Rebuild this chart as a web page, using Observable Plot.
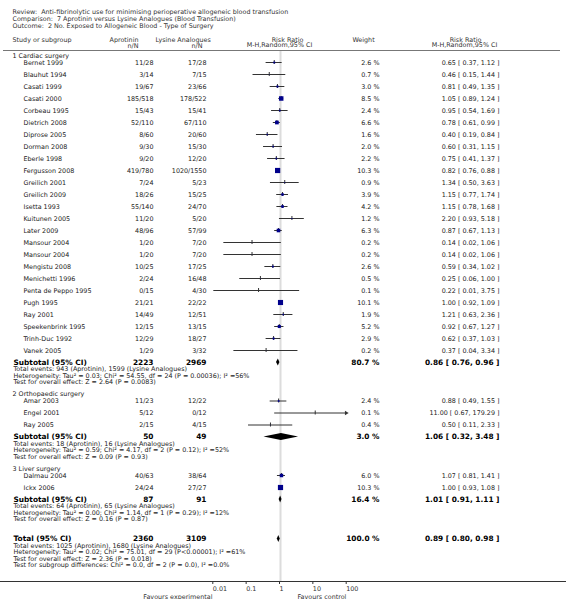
<!DOCTYPE html>
<html><head><meta charset="utf-8">
<script src="https://cdn.jsdelivr.net/npm/d3@7"></script>
<script src="https://cdn.jsdelivr.net/npm/@observablehq/plot@0.6"></script>
<style>body{margin:0;background:#fff} svg{display:block}</style>
</head><body><div id="chart"></div>
<script>
// ---------- data ----------
const headerLines = [
  "Review:  Anti-fibrinolytic use for minimising perioperative allogeneic blood transfusion",
  "Comparison:  7 Aprotinin versus Lysine Analogues (Blood Transfusion)",
  "Outcome:  2 No. Exposed to Allogeneic Blood - Type of Surgery"
];
const groupNames = ["1 Cardiac surgery", "2 Orthopaedic surgery", "3 Liver surgery"];
const studyNames = ["Bernet 1999","Blauhut 1994","Casati 1999","Casati 2000","Corbeau 1995","Dietrich 2008","Diprose 2005","Dorman 2008","Eberle 1998","Fergusson 2008","Greilich 2001","Greilich 2009","Isetta 1993","Kuitunen 2005","Later 2009","Mansour 2004","Mansour 2004","Mengistu 2008","Menichetti 1996","Penta de Peppo 1995","Pugh 1995","Ray 2001","Speekenbrink 1995","Trinh-Duc 1992","Vanek 2005",
  "Amar 2003","Engel 2001","Ray 2005",
  "Dalmau 2004","Ickx 2006"];
const studyGroup = [0,0,0,0,0,0,0,0,0,0,0,0,0,0,0,0,0,0,0,0,0,0,0,0,0, 1,1,1, 2,2];
const aprotinin = ["11/28","3/14","19/67","185/518","15/43","52/110","8/60","9/30","9/20","419/780","7/24","18/26","55/140","11/20","48/96","1/20","1/20","10/25","2/24","0/15","21/21","14/49","12/15","12/29","1/29",
  "11/23","5/12","2/15",
  "40/63","24/24"];
const lysine = ["17/28","7/15","23/66","178/522","15/41","67/110","20/60","15/30","12/20","1020/1550","5/23","15/25","24/70","5/20","57/99","7/20","7/20","17/25","16/48","4/30","22/22","12/51","13/15","18/27","3/32",
  "12/22","0/12","4/15",
  "38/64","27/27"];
const weights = [2.6,0.7,3.0,8.5,2.4,6.6,1.6,2.0,2.2,10.3,0.9,3.9,4.2,1.2,6.3,0.2,0.2,2.6,0.5,0.1,10.1,1.9,5.2,2.9,0.2,
  2.4,0.1,0.4,
  6.0,10.3];
const riskRatio = [0.65,0.46,0.81,1.05,0.95,0.78,0.40,0.60,0.75,0.82,1.34,1.15,1.15,2.20,0.87,0.14,0.14,0.59,0.25,0.22,1.00,1.21,0.92,0.62,0.37,
  0.88,11.00,0.50,
  1.07,1.00];
const ciLow = [0.37,0.15,0.49,0.89,0.54,0.61,0.19,0.31,0.41,0.76,0.50,0.77,0.78,0.93,0.67,0.02,0.02,0.34,0.06,0.01,0.92,0.63,0.67,0.37,0.04,
  0.49,0.67,0.11,
  0.81,0.93];
const ciHigh = [1.12,1.44,1.35,1.24,1.69,0.99,0.84,1.15,1.37,0.88,3.63,1.74,1.68,5.18,1.13,1.06,1.06,1.02,1.00,3.75,1.09,2.36,1.27,1.03,3.34,
  1.55,179.29,2.33,
  1.41,1.08];
const subAprotinin = ["2223", "50", "87"];
const subLysine = ["2969", "49", "91"];
const subWeight = [80.7, 3.0, 16.4];
const subRR = [0.86, 1.06, 1.01];
const subLow = [0.76, 0.32, 0.91];
const subHigh = [0.96, 3.48, 1.11];
const subNotes = [
  ["Total events: 943 (Aprotinin), 1599 (Lysine Analogues)",
   "Heterogeneity: Tau\u00b2 = 0.03; Chi\u00b2 = 54.55, df = 24 (P = 0.00036); I\u00b2 =56%",
   "Test for overall effect: Z = 2.64 (P = 0.0083)"],
  ["Total events: 18 (Aprotinin), 16 (Lysine Analogues)",
   "Heterogeneity: Tau\u00b2 = 0.59; Chi\u00b2 = 4.17, df = 2 (P = 0.12); I\u00b2 =52%",
   "Test for overall effect: Z = 0.09 (P = 0.93)"],
  ["Total events: 64 (Aprotinin), 65 (Lysine Analogues)",
   "Heterogeneity: Tau\u00b2 = 0.00; Chi\u00b2 = 1.14, df = 1 (P = 0.29); I\u00b2 =12%",
   "Test for overall effect: Z = 0.16 (P = 0.87)"]
];
const totalN = ["2360", "3109"];
const totalWeight = 100.0;
const totalEffect = [0.89, 0.80, 0.98];
const totalNotes = [
  "Total events: 1025 (Aprotinin), 1680 (Lysine Analogues)",
  "Heterogeneity: Tau\u00b2 = 0.02; Chi\u00b2 = 75.01, df = 29 (P<0.00001); I\u00b2 =61%",
  "Test for overall effect: Z = 2.36 (P = 0.018)",
  "Test for subgroup differences: Chi\u00b2 = 0.0, df = 2 (P = 0.0), I\u00b2 =0.0%"
];
const axisTicks = [0.01, 0.1, 1, 10, 100];
const axisTickLabels = ["0.01", "0.1", "1", "10", "100"];
const favours = ["Favours experimental", "Favours control"];

// ---------- layout (row positions) ----------
const FONT = "DejaVu Sans";
const FS = 6.4, FSB = 7.4;
const DMIN = 0.01, DMAX = 100;
const f2 = d3.format(".2f");
const rrText = (r, l, h) => `${f2(r)} [ ${f2(l)}, ${f2(h)} ]`;

const groupRows = [], studyRows = [], subRows = [], noteRows = [];
let y = 55;
for (let g = 0; g < groupNames.length; g++) {
  groupRows.push({label: groupNames[g], y});
  y += 7;
  let first = true;
  studyNames.forEach((n, i) => {
    if (studyGroup[i] !== g) return;
    if (!first) y += 12;
    first = false;
    studyRows.push({name: n, a: aprotinin[i], l: lysine[i], w: weights[i], rr: riskRatio[i], lo: ciLow[i], hi: ciHigh[i], y});
  });
  y += 12;
  subRows.push({label: "Subtotal (95% CI)", a: subAprotinin[g], l: subLysine[g], w: subWeight[g], rr: subRR[g], lo: subLow[g], hi: subHigh[g], y});
  for (const t of subNotes[g]) { y += 6.5; noteRows.push({text: t, y}); }
  y += 12;
}
y += 8;
const totalRow = {label: "Total (95% CI)", a: totalN[0], l: totalN[1], w: totalWeight, rr: totalEffect[0], lo: totalEffect[1], hi: totalEffect[2], y};
subRows.push(totalRow);
for (const t of totalNotes) { y += 6.6; noteRows.push({text: t, y}); }

const clampX = v => Math.max(DMIN, Math.min(DMAX, v));
const diamondPts = subRows.flatMap((d, k) => [
  {k, x: d.lo, y1: d.y, y2: d.y},
  {k, x: d.rr, y1: d.y - 3.5, y2: d.y + 3.5},
  {k, x: d.hi, y1: d.y, y2: d.y}
]);
const arrows = studyRows.filter(d => d.hi > DMAX);
const side = w => 5.2 * Math.pow(w / 10.3, 0.75);

const headerRows = headerLines.map((t, i) => ({text: t, y: 11.5 + i * 7.2}));
const colHead = [
  {t: "Study or subgroup", x: 12, y: 39.5, a: "start"},
  {t: "Aprotinin", x: 138, y: 39.5, a: "end"},
  {t: "n/N", x: 138, y: 45, a: "end"},
  {t: "Lysine Analogues", x: 155, y: 39.5, a: "start"},
  {t: "n/N", x: 202, y: 45, a: "end"},
  {t: "Risk Ratio", x: 287, y: 39, a: "middle"},
  {t: "M-H,Random,95% CI", x: 279, y: 44.5, a: "middle"},
  {t: "Weight", x: 363, y: 39.5, a: "middle"},
  {t: "Risk Ratio", x: 465, y: 39, a: "middle"},
  {t: "M-H,Random,95% CI", x: 464, y: 44.5, a: "middle"}
];

const txt = (data, opts) => Plot.text(data, {frameAnchor: "left", fontSize: FS, fill: "#222", ...opts});
const AX1 = 280 - 2 * 33.35, AX2 = 280 + 2 * 33.35;

const chart = Plot.plot({
  width: 566, height: 599,
  marginTop: 0, marginLeft: 0, marginRight: 0, marginBottom: 18,
  style: {fontFamily: FONT, background: "#fff"},
  x: {type: "log", domain: [DMIN, DMAX], range: [AX1, AX2]},
  y: {type: "identity"},
  r: {type: "identity"},
  marks: [
    // header
    txt(headerRows, {y: "y", text: "text", dx: 12, textAnchor: "start", fill: "#333"}),
    ...colHead.map(c => txt([c], {y: "y", text: "t", dx: c.x, textAnchor: c.a, fill: "#333"})),
    Plot.ruleY([50], {stroke: "#777", strokeWidth: 1, insetLeft: 3, insetRight: 6}),
    // line of no effect
    Plot.ruleX([1], {y1: 51, y2: 581, stroke: "#dcdcdc", strokeWidth: 2}),
    // axis
    Plot.frame({anchor: "bottom", stroke: "#333"}),
    Plot.axisX({ticks: axisTicks, tickFormat: d => axisTickLabels[axisTicks.indexOf(d)], tickSize: 3, tickPadding: 1.5,
      fontSize: FS, textAnchor: "start", dx: -1, stroke: "#333", fill: "#333", label: null}),
    txt([{t: favours[0], y: 596}], {y: "y", text: "t", dx: 212, textAnchor: "end", fill: "#333"}),
    txt([{t: favours[1], y: 596}], {y: "y", text: "t", dx: 297, textAnchor: "start", fill: "#333"}),
    // group labels
    txt(groupRows, {y: "y", text: "label", dx: 12, textAnchor: "start"}),
    // studies
    txt(studyRows, {y: "y", text: "name", dx: 23, textAnchor: "start"}),
    txt(studyRows, {y: "y", text: "a", dx: 153, textAnchor: "end"}),
    txt(studyRows, {y: "y", text: "l", dx: 206, textAnchor: "end"}),
    txt(studyRows, {y: "y", text: d => d.w.toFixed(1) + " %", dx: 379, textAnchor: "end"}),
    txt(studyRows, {y: "y", text: d => rrText(d.rr, d.lo, d.hi), dx: 499, textAnchor: "end"}),
    Plot.ruleY(studyRows, {y: "y", x1: d => clampX(d.lo), x2: d => clampX(d.hi), stroke: "#333", strokeWidth: 1}),
    Plot.dot(arrows, {x: DMAX, y: "y", symbol: "triangle", rotate: 90, r: 1.6, fill: "#333", dx: -1}),
    Plot.ruleX(studyRows, {x: "rr", y1: d => d.y - 2, y2: d => d.y + 2, stroke: "#333", strokeWidth: 1}),
    Plot.dot(studyRows, {x: "rr", y: "y", symbol: "square", r: d => side(d.w) / Math.sqrt(Math.PI), fill: "#00008b", stroke: null}),
    // subtotals and total
    txt(subRows, {y: "y", text: "label", dx: 13, textAnchor: "start", fontSize: FSB, fontWeight: "bold", fill: "#000"}),
    txt(subRows, {y: "y", text: "a", dx: 153, textAnchor: "end", fontSize: FSB, fontWeight: "bold", fill: "#000"}),
    txt(subRows, {y: "y", text: "l", dx: 206, textAnchor: "end", fontSize: FSB, fontWeight: "bold", fill: "#000"}),
    txt(subRows, {y: "y", text: d => d.w.toFixed(1) + " %", dx: 379, textAnchor: "end", fontSize: FSB, fontWeight: "bold", fill: "#000"}),
    txt(subRows, {y: "y", text: d => rrText(d.rr, d.lo, d.hi), dx: 499, textAnchor: "end", fontSize: FSB, fontWeight: "bold", fill: "#000"}),
    Plot.areaY(diamondPts, {x: "x", y1: "y1", y2: "y2", z: "k", fill: "#000"}),
    txt(noteRows, {y: "y", text: "text", dx: 13, textAnchor: "start"})
  ]
});
document.getElementById("chart").appendChild(chart);
</script>
</body></html>
